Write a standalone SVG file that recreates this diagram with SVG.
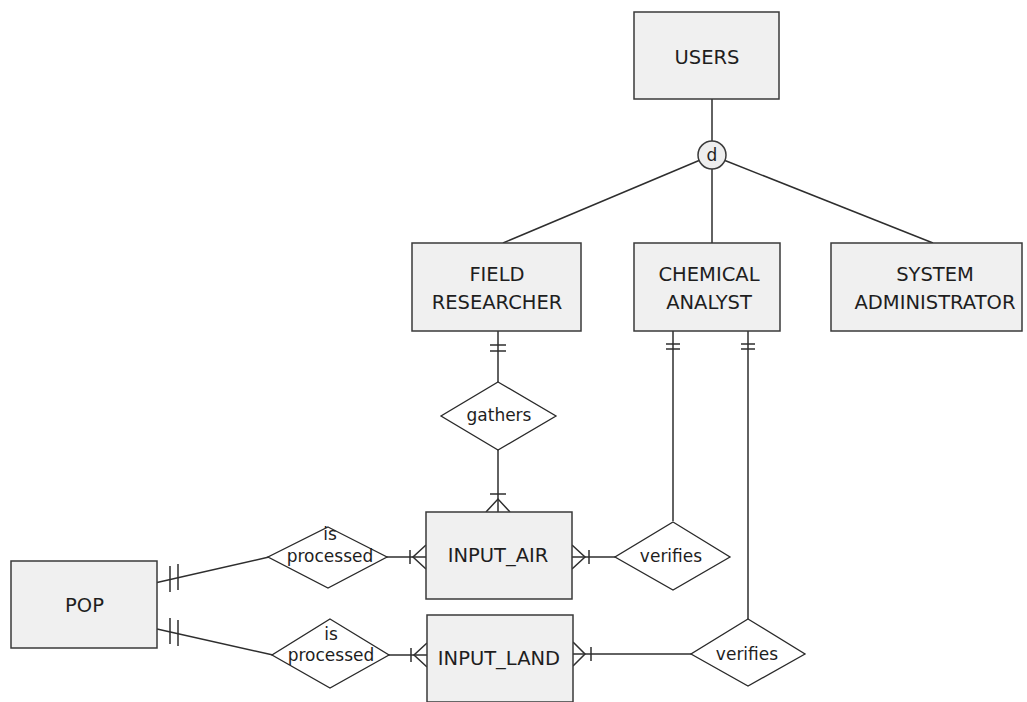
<svg xmlns="http://www.w3.org/2000/svg" width="1027" height="702" viewBox="0 0 1027 702">
  <style>
    .entity rect { fill: #f0f0f0; stroke: #3a3a3a; stroke-width: 1.5; }
    .entity text { font-family: "DejaVu Sans", Verdana, sans-serif; font-size: 19.5px; fill: #1e1e1e; text-anchor: middle; }
    .rel polygon { fill: #ffffff; stroke: #2a2a2a; stroke-width: 1.3; }
    .rel text { font-family: "DejaVu Sans", Verdana, sans-serif; font-size: 17px; fill: #1e1e1e; text-anchor: middle; }
    .lines line, .lines polyline { stroke: #2e2e2e; stroke-width: 1.5; fill: none; }
    .spec circle { fill: #eeeeee; stroke: #3a3a3a; stroke-width: 1.5; }
    .spec text { font-family: "DejaVu Sans", Verdana, sans-serif; font-size: 17px; fill: #1e1e1e; text-anchor: middle; }
  </style>

  <rect width="1027" height="702" fill="#ffffff"/>

  <!-- connectors -->
  <g id="connectors" class="lines">
    <!-- specialisation of USERS -->
    <line x1="712" y1="99" x2="712" y2="141"/>
    <line x1="699" y1="160.5" x2="503" y2="243"/>
    <line x1="712" y1="169" x2="712" y2="243"/>
    <line x1="725" y1="160.5" x2="933" y2="243"/>

    <!-- FIELD RESEARCHER - gathers : one -->
    <line x1="498" y1="331" x2="498" y2="382"/>
    <line x1="490" y1="345" x2="506" y2="345"/>
    <line x1="490" y1="351" x2="506" y2="351"/>
    <!-- gathers - INPUT_AIR : many -->
    <line x1="498" y1="450" x2="498" y2="512"/>
    <line x1="490" y1="494" x2="506" y2="494"/>
    <polyline points="486,512 498,499 510,512"/>

    <!-- CHEMICAL ANALYST - verifies (air) -->
    <line x1="673" y1="331" x2="673" y2="521"/>
    <line x1="666" y1="344" x2="680" y2="344"/>
    <line x1="666" y1="349" x2="680" y2="349"/>
    <!-- CHEMICAL ANALYST - verifies (land) -->
    <line x1="748" y1="331" x2="748" y2="619"/>
    <line x1="741" y1="344" x2="755" y2="344"/>
    <line x1="741" y1="349" x2="755" y2="349"/>

    <!-- INPUT_AIR - verifies -->
    <line x1="572" y1="557" x2="615" y2="557"/>
    <polyline points="572,545 585,557 572,569"/>
    <line x1="589" y1="550" x2="589" y2="564"/>
    <!-- INPUT_LAND - verifies -->
    <line x1="573" y1="654" x2="691" y2="654"/>
    <polyline points="573,642 585,654 573,666"/>
    <line x1="591" y1="647" x2="591" y2="661"/>

    <!-- is processed - INPUT_AIR -->
    <line x1="385" y1="557" x2="426" y2="557"/>
    <line x1="410" y1="550" x2="410" y2="564"/>
    <polyline points="426,545 413,557 426,569"/>
    <!-- is processed - INPUT_LAND -->
    <line x1="388" y1="655" x2="427" y2="655"/>
    <line x1="411" y1="648" x2="411" y2="662"/>
    <polyline points="427,643 414,655 427,667"/>

    <!-- POP - is processed (air) -->
    <line x1="157" y1="582.5" x2="269" y2="557"/>
    <line x1="170" y1="566" x2="170" y2="592"/>
    <line x1="178" y1="564" x2="178" y2="590"/>
    <!-- POP - is processed (land) -->
    <line x1="157" y1="629" x2="273" y2="655"/>
    <line x1="170" y1="618" x2="170" y2="644"/>
    <line x1="178" y1="620" x2="178" y2="646"/>
  </g>

  <!-- disjoint specialisation marker -->
  <g id="spec-d" class="spec">
    <circle cx="712" cy="155" r="14"/>
    <text x="712" y="161">d</text>
  </g>

  <!-- entities -->
  <g id="users" class="entity">
    <rect x="634" y="12" width="145" height="87"/>
    <text x="707" y="64">USERS</text>
  </g>
  <g id="field-researcher" class="entity">
    <rect x="412" y="243" width="169" height="88"/>
    <text x="497" y="281">FIELD</text>
    <text x="497" y="308.5">RESEARCHER</text>
  </g>
  <g id="chemical-analyst" class="entity">
    <rect x="634" y="243" width="146" height="88"/>
    <text x="709" y="281">CHEMICAL</text>
    <text x="709" y="308.5">ANALYST</text>
  </g>
  <g id="system-administrator" class="entity">
    <rect x="831" y="243" width="191" height="88"/>
    <text x="935" y="281">SYSTEM</text>
    <text x="935" y="308.5">ADMINISTRATOR</text>
  </g>
  <g id="input-air" class="entity">
    <rect x="426" y="512" width="146" height="87"/>
    <text x="498" y="561.5">INPUT_AIR</text>
  </g>
  <g id="input-land" class="entity">
    <rect x="427" y="615" width="146" height="87"/>
    <text x="499" y="665">INPUT_LAND</text>
  </g>
  <g id="pop" class="entity">
    <rect x="11" y="561" width="146" height="87"/>
    <text x="84.5" y="611.5">POP</text>
  </g>

  <!-- relationships -->
  <g id="gathers" class="rel">
    <polygon points="498,382 556,416 498,450 441,416"/>
    <text x="499" y="421">gathers</text>
  </g>
  <g id="verifies-air" class="rel">
    <polygon points="673,522 730,557 673,590 615,557"/>
    <text x="671" y="562">verifies</text>
  </g>
  <g id="verifies-land" class="rel">
    <polygon points="748,619 805,654 748,686 691,654"/>
    <text x="747" y="660">verifies</text>
  </g>
  <g id="is-processed-air" class="rel">
    <polygon points="328,527 387,557 328,588 268,557"/>
    <text x="330" y="540">is</text>
    <text x="330" y="562">processed</text>
  </g>
  <g id="is-processed-land" class="rel">
    <polygon points="330,619 389,655 330,688 272,655"/>
    <text x="331" y="640">is</text>
    <text x="331" y="661">processed</text>
  </g>
</svg>
